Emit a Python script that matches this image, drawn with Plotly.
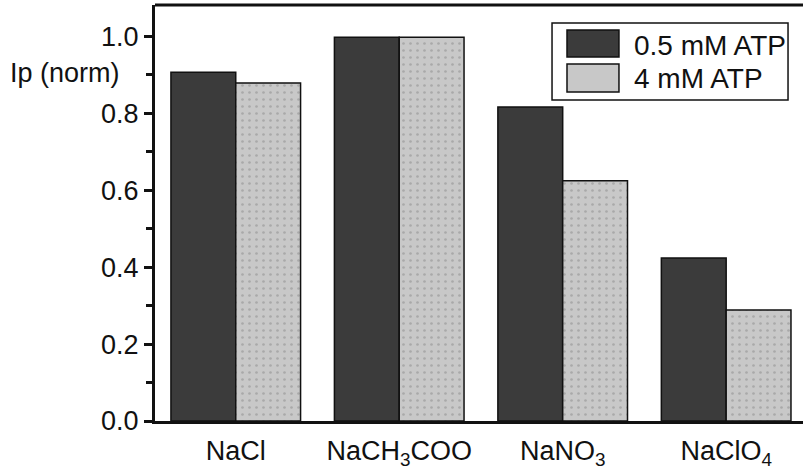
import plotly.graph_objects as go

categories = ["NaCl", "NaCH<sub>3</sub>COO", "NaNO<sub>3</sub>", "NaClO<sub>4</sub>"]
atp_05 = [0.907, 0.998, 0.817, 0.424]
atp_4 = [0.879, 0.998, 0.625, 0.289]
series_names = ["0.5 mM ATP", "4 mM ATP"]
series_colors = ["#3b3b3b", "#c8c8c8"]
y_ticks = [0.0, 0.2, 0.4, 0.6, 0.8, 1.0]
y_tick_labels = ["0.0", "0.2", "0.4", "0.6", "0.8", "1.0"]

FONT = "Liberation Sans, Arial, Helvetica, sans-serif"
INK = "#111111"
x_idx = list(range(len(categories)))

fig = go.Figure()
fig.add_trace(go.Bar(
    x=x_idx, y=atp_05, name=series_names[0],
    marker=dict(color=series_colors[0], line=dict(color=INK, width=1.5)),
))
fig.add_trace(go.Bar(
    x=x_idx, y=atp_4, name=series_names[1],
    marker=dict(color=series_colors[1], line=dict(color=INK, width=1.5),
                pattern=dict(shape=".", fgcolor="#8a8a8a", bgcolor=series_colors[1],
                             size=7, solidity=0.12)),
))

# custom legend (large swatches, as in the reference)
legend_box = dict(type="rect", xref="paper", yref="paper",
                  x0=0.6127, x1=0.9769, y0=0.7716, y1=0.9567,
                  line=dict(color=INK, width=1.5), fillcolor="white", layer="above")
sw_x0, sw_x1 = 0.6358, 0.7160
sw_rows = [(0.8750, 0.9399), (0.7909, 0.8582)]
txt_y = [0.9016, 0.8228]
shapes = [dict(type="line", xref="paper", yref="paper", x0=0, x1=1, y0=1, y1=1,
               line=dict(color=INK, width=3)), legend_box]
annotations = [dict(text="Ip (norm)", xref="paper", yref="paper",
                    x=-0.2269, y=0.8365, xanchor="left", yanchor="middle",
                    showarrow=False, font=dict(family=FONT, size=27, color=INK))]
for (y0, y1), ty, name, col in zip(sw_rows, txt_y, series_names, series_colors):
    shapes.append(dict(type="rect", xref="paper", yref="paper",
                       x0=sw_x0, x1=sw_x1, y0=y0, y1=y1,
                       line=dict(color=INK, width=1.5), fillcolor=col, layer="above"))
    annotations.append(dict(text=name, xref="paper", yref="paper",
                            x=0.7361, y=ty, xanchor="left", yanchor="middle",
                            showarrow=False, font=dict(family=FONT, size=28, color=INK)))

fig.update_layout(
    width=803, height=469,
    margin=dict(l=155, r=0, t=5, b=48),
    paper_bgcolor="white", plot_bgcolor="white",
    barmode="group", bargap=0.207, bargroupgap=0.0,
    font=dict(family=FONT, size=27, color=INK),
    showlegend=False,
    xaxis=dict(
        range=[-0.494, 3.47], tickvals=x_idx, ticktext=categories,
        showline=True, linecolor=INK, linewidth=3,
        ticks="", showgrid=False, zeroline=False, ticklabelstandoff=4,
        tickfont=dict(family=FONT, size=27, color=INK),
    ),
    yaxis=dict(
        range=[0, 1.082], tickvals=y_ticks, ticktext=y_tick_labels,
        showline=True, linecolor=INK, linewidth=3,
        ticks="outside", ticklen=8, tickwidth=2.5, tickcolor=INK,
        minor=dict(dtick=0.1, ticks="outside", ticklen=6, tickwidth=2.5, tickcolor=INK),
        showgrid=False, zeroline=False,
        tickfont=dict(family=FONT, size=27, color=INK),
    ),
    shapes=shapes,
    annotations=annotations,
)

fig.write_html("out.html")
